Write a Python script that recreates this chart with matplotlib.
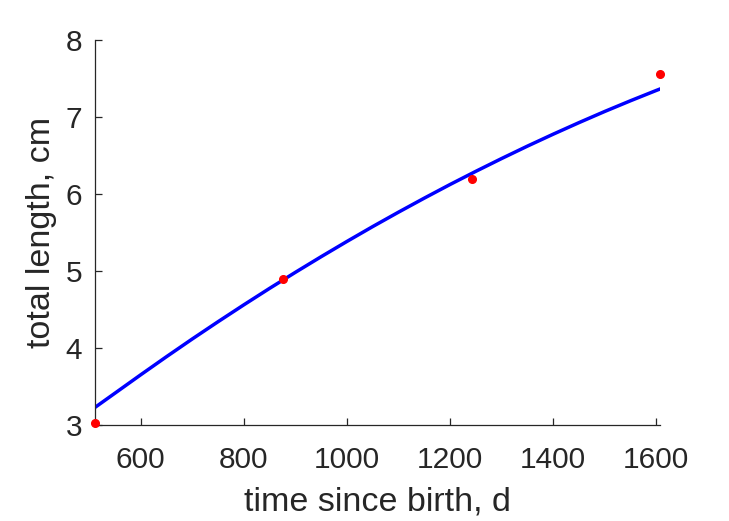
import matplotlib.pyplot as plt

# observed data (red dots)
obs_t = [511, 876, 1242, 1607]
obs_len = [3.03, 4.90, 6.19, 7.56]

# fitted curve (blue line)
fit_t = [511, 555, 600, 650, 700, 750, 800, 850, 900, 950, 1000, 1050,
         1100, 1150, 1200, 1250, 1300, 1350, 1400, 1450, 1500, 1550, 1600,
         1607]
fit_len = [3.230, 3.440, 3.655, 3.890, 4.120, 4.344, 4.563, 4.777, 4.985,
           5.188, 5.386, 5.579, 5.766, 5.948, 6.125, 6.296, 6.462, 6.623,
           6.778, 6.928, 7.073, 7.212, 7.346, 7.364]

xticks = [600, 800, 1000, 1200, 1400, 1600]
yticks = [3, 4, 5, 6, 7, 8]

plt.rcParams['font.family'] = ['Liberation Sans', 'DejaVu Sans']
grey = '#262626'

fig = plt.figure(figsize=(7.29, 5.21), dpi=100)
ax = fig.add_axes([0.130, 0.1837, 0.776, 0.7395])

ax.plot(fit_t, fit_len, color='#0000ff', linewidth=2.5, zorder=2,
        solid_joinstyle='round')
ax.plot(obs_t, obs_len, 'o', color='#ff0000', markersize=5.5, zorder=3,
        clip_on=False)

ax.set_xlim(511, 1608)
ax.set_ylim(3, 8)
ax.set_xticks(xticks)
ax.set_yticks(yticks)

for side in ['top', 'right']:
    ax.spines[side].set_visible(False)
for side in ['left', 'bottom']:
    ax.spines[side].set_color(grey)
    ax.spines[side].set_linewidth(0.9)

ax.tick_params(direction='in', length=5, width=0.9, colors=grey,
               labelsize=21.5)
ax.tick_params(axis='x', pad=15)
ax.tick_params(axis='y', pad=9)
ax.set_xlabel('time since birth, d', fontsize=24.5, color=grey, labelpad=9)
ax.set_ylabel('total length, cm', fontsize=24.5, color=grey, labelpad=6)

fig.savefig('out.png', dpi=100)
